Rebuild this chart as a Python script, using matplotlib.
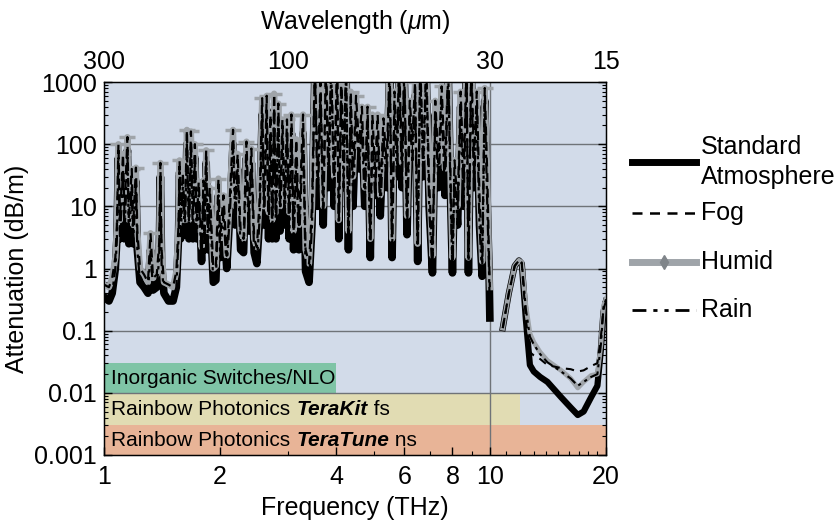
import numpy as np
import matplotlib.pyplot as plt
from matplotlib.lines import Line2D
from matplotlib.ticker import FixedLocator, FixedFormatter, LogLocator, NullFormatter

plt.rcParams['font.family'] = ['Liberation Sans', 'DejaVu Sans']
plt.rcParams['mathtext.fontset'] = 'custom'
plt.rcParams['mathtext.it'] = 'Liberation Sans:italic'
plt.rcParams['mathtext.rm'] = 'Liberation Sans'

# Região de linhas de absorção (1-10 THz): sequência de vales e picos
spike_freq = [
    1.00, 1.03, 1.05, 1.07, 1.08, 1.09, 1.10, 1.12, 1.13, 1.15,
    1.16, 1.18, 1.19, 1.21, 1.22, 1.24, 1.27, 1.30, 1.32, 1.34,
    1.37, 1.39, 1.40, 1.41, 1.43, 1.47, 1.51, 1.54, 1.56, 1.57,
    1.58, 1.60, 1.62, 1.64, 1.66, 1.68, 1.70, 1.72, 1.74, 1.76,
    1.79, 1.81, 1.82, 1.84, 1.86, 1.88, 1.92, 1.95, 1.98, 2.00,
    2.04, 2.08, 2.12, 2.16, 2.19, 2.22, 2.26, 2.30, 2.34, 2.37,
    2.41, 2.45, 2.49, 2.53, 2.57, 2.60, 2.64, 2.67, 2.70, 2.73,
    2.76, 2.79, 2.83, 2.86, 2.90, 2.94, 2.98, 3.02, 3.06, 3.10,
    3.15, 3.20, 3.28, 3.33, 3.40, 3.46, 3.52, 3.58, 3.64, 3.70,
    3.76, 3.82, 3.88, 3.95, 4.02, 4.06, 4.12, 4.18, 4.24, 4.30,
    4.36, 4.42, 4.50, 4.58, 4.66, 4.74, 4.82, 4.90, 4.96, 5.04,
    5.12, 5.20, 5.30, 5.40, 5.50, 5.58, 5.66, 5.74, 5.82, 5.92,
    6.00, 6.10, 6.20, 6.30, 6.40, 6.50, 6.60, 6.72, 6.84, 6.96,
    7.10, 7.22, 7.36, 7.50, 7.65, 7.80, 7.92, 8.00, 8.10, 8.25,
    8.40, 8.55, 8.70, 8.80, 8.95, 9.10, 9.25, 9.40, 9.55, 9.70,
    9.85, 9.95, 10.0]
std_spike = [
    0.35, 0.30, 0.40, 1.0, 3.0, 60, 3.0, 40, 3.0, 80,
    2.5, 20, 2.5, 25, 2.0, 0.6, 0.5, 0.4, 2.0, 0.45,
    0.5, 1.5, 30, 1.2, 0.4, 0.3, 0.3, 0.5, 3.0, 35,
    3.0, 20, 3.5, 100, 3.0, 90, 3.0, 60, 3.0, 15,
    1.3, 15, 2.0, 50, 2.0, 10, 0.6, 0.65, 15, 1.5,
    8, 1.0, 8, 100, 5, 40, 2.0, 1.8, 60, 4,
    50, 1.8, 1.2, 6, 300, 5, 350, 3, 150, 3,
    350, 3, 250, 4, 150, 5, 150, 3, 150, 2,
    60, 2, 150, 0.9, 0.6, 5, 1500, 10, 600, 5,
    1500, 20, 1500, 10, 1500, 3, 800, 20, 1500, 2,
    400, 10, 300, 40, 200, 10, 250, 1.5, 150, 15,
    150, 7, 150, 20, 1500, 1.5, 400, 30, 1500, 20,
    1500, 3.5, 300, 50, 600, 1.3, 1500, 30, 1500, 10,
    0.85, 300, 20, 500, 15, 1500, 10, 0.85, 30, 5,
    400, 10, 1500, 0.85, 1500, 20, 400, 5, 0.75, 500,
    10, 1.0, 0.16]
humid_spike = [
    0.55, 0.5, 0.7, 1.5, 5, 100, 6, 70, 8, 130,
    6, 40, 5, 42, 4, 1.0, 0.8, 0.6, 3.7, 0.7,
    0.8, 2.5, 50, 2, 0.6, 0.55, 0.5, 0.9, 5, 55,
    6, 35, 6, 170, 6, 160, 7, 100, 6, 25,
    2.2, 26, 4, 80, 4, 20, 1.0, 1.1, 28, 3,
    15, 1.6, 15, 170, 10, 70, 4, 3, 110, 8,
    85, 3, 2.2, 12, 550, 10, 600, 8, 300, 6,
    650, 8, 450, 10, 250, 12, 250, 8, 300, 4,
    120, 5, 300, 2, 1.2, 10, 2000, 30, 1000, 10,
    2000, 50, 2000, 30, 2000, 6, 1200, 50, 2000, 4,
    700, 30, 600, 100, 400, 20, 400, 3, 300, 40,
    300, 15, 260, 50, 2000, 3, 700, 80, 2000, 50,
    2000, 7, 500, 120, 1000, 2.5, 2000, 60, 2000, 25,
    1.6, 500, 50, 850, 40, 2000, 20, 1.5, 55, 10,
    700, 30, 2000, 1.5, 2000, 60, 700, 15, 1.3, 800,
    30, 1.5, 0.5]

# Janela acima de 10 THz
tail_freq = [10.8, 11.2, 11.6, 11.9, 12.1, 12.4, 12.7, 13.0, 13.5, 14.1,
             15.3, 16.2, 16.9, 17.5, 18.3, 19.0, 19.4, 19.7, 20.0]
std_tail = [0.11, 0.4, 1.1, 1.35, 1.2, 0.15, 0.028, 0.022, 0.018, 0.015,
            0.0085, 0.0058, 0.0044, 0.005, 0.0085, 0.013, 0.05, 0.2, 0.3]
fog_tail = [0.11, 0.4, 1.1, 1.35, 1.2, 0.15, 0.045, 0.04, 0.035, 0.028,
            0.025, 0.024, 0.022, 0.023, 0.027, 0.03, 0.08, 0.22, 0.3]
humid_tail = [0.11, 0.4, 1.1, 1.35, 1.25, 0.25, 0.09, 0.065, 0.045, 0.033,
              0.023, 0.017, 0.012, 0.015, 0.019, 0.02, 0.06, 0.25, 0.32]
rain_tail = [0.11, 0.4, 1.1, 1.35, 1.25, 0.22, 0.08, 0.06, 0.042, 0.031,
             0.022, 0.017, 0.013, 0.015, 0.018, 0.02, 0.06, 0.24, 0.32]

# Faixas das fontes
band_names = ['Inorganic Switches/NLO', 'Rainbow Photonics ', 'Rainbow Photonics ']
band_bold = ['', 'TeraKit', 'TeraTune']
band_suffix = ['', ' fs', ' ns']
band_lo = [0.01, 0.003, 0.001]
band_hi = [0.03, 0.01, 0.003]
band_end = [4, 12, 20]
band_colors = ['#7fc4a6', '#e1dcb3', '#e8b497']

x_ticks = [1, 2, 4, 6, 8, 10, 20]
x_minor = [3, 5, 7, 9, 11, 12, 13, 14, 15, 16, 17, 18, 19]
y_ticks = [0.001, 0.01, 0.1, 1, 10, 100, 1000]
y_labels = ['0.001', '0.01', '0.1', '1', '10', '100', '1000']
wavelengths = [300, 100, 30, 15]

legend_labels = ['Standard\nAtmosphere', 'Fog', 'Humid', 'Rain']

BG = '#d2dbe9'
GRAY = '#9fa4a9'
FS = 18
W, H = 840, 529

fig = plt.figure(figsize=(8.4, 5.29), dpi=100)
ax = fig.add_axes([104 / W, 1 - 455 / H, 502 / W, 373 / H])
ax.set_facecolor(BG)
ax.set_xscale('log')
ax.set_yscale('log')
ax.set_xlim(1, 20)
ax.set_ylim(0.001, 1000)

for lo, hi, end, c in zip(band_lo, band_hi, band_end, band_colors):
    ax.fill_between([1, end], lo, hi, color=c, lw=0, zorder=1)

for yv in y_ticks[1:-1]:
    ax.axhline(yv, color='#6f7378', lw=1, zorder=1.5)
ax.axvline(10, color='#6f7378', lw=1, zorder=1.5)

# Picos do "humid" recebem um traço horizontal
peak_idx = [i for i in range(1, len(humid_spike) - 1)
            if humid_spike[i] > humid_spike[i - 1] and humid_spike[i] > humid_spike[i + 1]]

ax.plot(spike_freq, std_spike, color='black', lw=5.5, zorder=3)
ax.plot(spike_freq, humid_spike, color=GRAY, lw=4.5, zorder=4,
        marker='_', markevery=peak_idx, ms=12, mew=2.5, mec=GRAY)
ax.plot(spike_freq, humid_spike, color='black', lw=1.6, dashes=(4, 3), zorder=5)
ax.plot(spike_freq, std_spike, color='black', lw=1.6, dashes=(5, 2, 1.5, 2, 1.5, 2), zorder=5)

ax.plot(tail_freq, std_tail, color='black', lw=4.5, zorder=3)
ax.plot(tail_freq, humid_tail, color=GRAY, lw=3.5, zorder=4)
ax.plot(tail_freq, fog_tail, color='black', lw=1.5, dashes=(4, 3), zorder=5)
ax.plot(tail_freq, rain_tail, color='black', lw=1.5, dashes=(5, 2, 1.5, 2, 1.5, 2), zorder=5)

# Textos das faixas (parte em negrito itálico)
for name, bold, suf, lo, hi in zip(band_names, band_bold, band_suffix, band_lo, band_hi):
    yc = np.sqrt(lo * hi)
    t = ax.text(1.045, yc, name, fontsize=15, va='center', ha='left', zorder=6)
    if bold:
        t2 = ax.annotate(bold, xy=(1, 0), xycoords=t, va='bottom', ha='left',
                         fontsize=15, fontweight='bold', fontstyle='italic', zorder=6)
        ax.annotate(suf, xy=(1, 0), xycoords=t2, va='bottom', ha='left',
                    fontsize=15, zorder=6)

ax.xaxis.set_major_locator(FixedLocator(x_ticks))
ax.xaxis.set_major_formatter(FixedFormatter([str(v) for v in x_ticks]))
ax.xaxis.set_minor_locator(FixedLocator(x_minor))
ax.xaxis.set_minor_formatter(NullFormatter())
ax.yaxis.set_major_locator(FixedLocator(y_ticks))
ax.yaxis.set_major_formatter(FixedFormatter(y_labels))
ax.yaxis.set_minor_locator(LogLocator(base=10, subs=np.arange(2, 10)))
ax.yaxis.set_minor_formatter(NullFormatter())
ax.tick_params(which='both', direction='in', top=True, right=True, labelsize=FS)
ax.tick_params(which='major', length=6, width=1)
ax.tick_params(which='minor', length=3, width=0.8)
ax.tick_params(axis='x', pad=7)
ax.tick_params(axis='y', pad=5)
for s in ax.spines.values():
    s.set_linewidth(1)

ax.set_xlabel('Frequency (THz)', fontsize=FS, labelpad=5)
ax.set_ylabel('Attenuation (dB/m)', fontsize=FS, labelpad=4)

# Eixo superior: comprimento de onda
ax2 = ax.twiny()
ax2.set_xscale('log')
ax2.set_xlim(1, 20)
ax2.xaxis.set_major_locator(FixedLocator([300 / w for w in wavelengths]))
ax2.xaxis.set_major_formatter(FixedFormatter([str(w) for w in wavelengths]))
ax2.xaxis.set_minor_locator(FixedLocator([]))
ax2.tick_params(length=0, labelsize=FS, pad=6)
ax2.set_xlabel('Wavelength ($\\mu$m)', fontsize=FS, labelpad=15)

# Legenda montada à mão (espaçamento irregular no original)
legend_styles = [
    dict(color='black', lw=5),
    dict(color='black', lw=1.8, dashes=(4, 3)),
    dict(color=GRAY, lw=5, marker='d', ms=7, mfc='#80858a', mec='#80858a', markevery=[1]),
    dict(color='black', lw=2, dashes=(5, 2.5, 1.5, 2.5, 1.5, 2.5)),
]
legend_rows = [162, 213, 262, 310]
for lab, sty, yp in zip(legend_labels, legend_styles, legend_rows):
    yf = 1 - yp / H
    fig.add_artist(Line2D([632 / W, 664 / W, 696 / W], [yf, yf, yf], **sty))
    fig.text(701 / W, yf, lab, fontsize=FS, va='center', ha='left', linespacing=1.3)

fig.savefig('out.png', dpi=100)
